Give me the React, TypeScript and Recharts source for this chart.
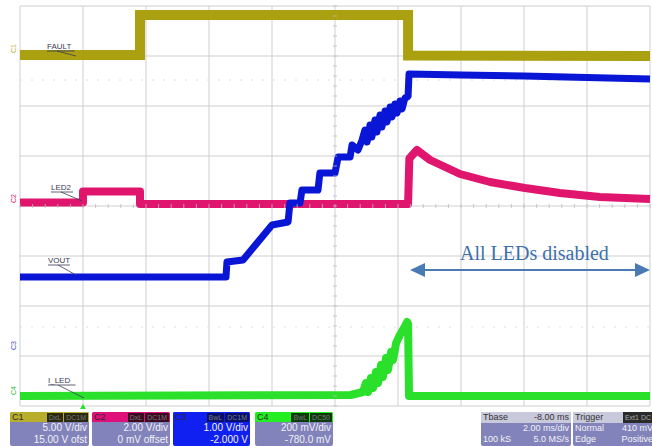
import React from 'react'
import { LineChart, Line, XAxis, YAxis, CartesianGrid, ReferenceLine } from 'recharts'

// x = time in ms (2 ms/div, 10 div), y = screen divisions (center line = 0)
const timeTicks = [0, 2, 4, 6, 8, 10, 12, 14, 16, 18, 20]
const divTicks = [-4, -3, -2, -1, 0, 1, 2, 3, 4]

const faultT = [0, 3.81, 3.81, 12.32, 12.32, 20]
const faultV = [3.02, 3.02, 3.82, 3.82, 3.01, 3.0]

const led2T = [0, 2.0, 2.0, 3.81, 3.81, 12.32, 12.36, 12.6, 13.02, 13.97, 14.92, 16.03, 17.14, 18.41, 20]
const led2V = [0.07, 0.07, 0.29, 0.29, 0.04, 0.04, 0.95, 1.12, 0.92, 0.64, 0.48, 0.36, 0.26, 0.18, 0.14]

const voutT = [0, 6.54, 6.57, 7.08, 8.0, 8.51, 8.57, 8.89, 8.95, 9.46, 9.52, 10.0, 10.1, 10.48, 10.54, 10.73, 10.86,
  10.95, 11.02, 11.11, 11.17, 11.27, 11.33, 11.43, 11.49, 11.59, 11.65, 11.75, 11.81, 11.9, 11.97, 12.06, 12.13, 12.22, 12.29,
  12.32, 12.35, 14, 16, 18, 20]
const voutV = [-1.42, -1.42, -1.12, -1.08, -0.38, -0.32, 0.06, 0.06, 0.32, 0.32, 0.66, 0.66, 0.98, 0.98, 1.22, 1.12, 1.32,
  1.52, 1.28, 1.62, 1.38, 1.72, 1.48, 1.82, 1.58, 1.9, 1.68, 1.98, 1.78, 2.04, 1.86, 2.1, 1.94, 2.16, 2.18,
  2.2, 2.64, 2.62, 2.6, 2.57, 2.54]

const iledT = [0, 10.5, 10.89, 10.98, 11.05, 11.14, 11.21, 11.3, 11.37, 11.46, 11.52, 11.62, 11.68, 11.78, 11.84, 11.94,
  12.06, 12.19, 12.29, 12.32, 12.35, 20]
const iledV = [-3.8, -3.78, -3.72, -3.54, -3.72, -3.44, -3.64, -3.32, -3.54, -3.18, -3.42, -3.04, -3.28, -2.92, -3.08, -2.74,
  -2.58, -2.44, -2.32, -2.36, -3.8, -3.8]

const zip = (t: number[], v: number[]) => t.map((x, i) => ({ t: x, v: v[i] }))

const PL = 20, PT = 6, PW = 630, PH = 400
const cx = PL + PW / 2, cy = PT + PH / 2

const sans = '"Liberation Sans", Arial, sans-serif'

const Box = ({ x, w, head, headColor, badges, badgeColor, lines, allColor }: any) => (
  <div style={{ position: 'absolute', left: x, top: 412, width: w, height: 34, background: allColor || '#8283ba',
    borderRadius: 2, fontFamily: sans, fontSize: 10, color: '#f2f2f8', overflow: 'hidden' }}>
    <div style={{ height: 10, background: headColor, display: 'flex', alignItems: 'center', paddingLeft: 2 }}>
      <span style={{ color: '#2a2a2a', flex: 1, lineHeight: '10px', fontSize: 9 }}>{head}</span>
      {badges.map((b: string) => (
        <span key={b} style={{ background: badgeColor, color: '#777', fontSize: 7, padding: '0 2px', marginRight: 1, lineHeight: '9px' }}>{b}</span>
      ))}
    </div>
    {lines.map((l: string, i: number) => (
      <div key={i} style={{ textAlign: 'right', paddingRight: 2, lineHeight: '12px', height: 12 }}>{l}</div>
    ))}
  </div>
)

export default function App() {
  const label = (txt: string, x: number, y: number, ex: number, ey: number) => (
    <g>
      <text x={x} y={y} fontSize={8} fontFamily={sans} fill="#3a3a55">{txt}</text>
      <line x1={x} y1={y + 2} x2={x + txt.length * 5.5} y2={y + 2} stroke="#3a3a55" strokeWidth={0.8} />
      <line x1={x + 10} y1={y + 2} x2={ex} y2={ey} stroke="#3a3a55" strokeWidth={0.8} />
    </g>
  )
  const vTicks = Array.from({ length: 41 }, (_, i) => PT + i * 10)
  const hTicks = Array.from({ length: 51 }, (_, i) => PL + i * 12.6)
  return (
    <div style={{ position: 'absolute', left: 0, top: 0, width: 652, height: 446, background: '#fff', overflow: 'hidden' }}>
      <LineChart width={652} height={446} margin={{ top: PT, left: PL, right: 2, bottom: 40 }}>
        <CartesianGrid stroke="#cfcfd2" strokeWidth={1} />
        <XAxis type="number" dataKey="t" domain={[0, 20]} ticks={timeTicks} hide allowDuplicatedCategory={false} />
        <YAxis type="number" domain={[-4, 4]} ticks={divTicks} hide />
        <ReferenceLine y={2.52} stroke="#dedede" strokeDasharray="2 9" />
        <ReferenceLine y={-2.42} stroke="#dedede" strokeDasharray="2 9" />
        <Line data={zip(faultT, faultV)} dataKey="v" stroke="#aaa010" strokeWidth={10} dot={false} isAnimationActive={false} />
        <Line data={zip(led2T, led2V)} dataKey="v" stroke="#e0166e" strokeWidth={8} dot={false} isAnimationActive={false} strokeLinejoin="round" />
        <Line data={zip(voutT, voutV)} dataKey="v" stroke="#0a16d6" strokeWidth={7} dot={false} isAnimationActive={false} strokeLinejoin="round" />
        <Line data={zip(iledT, iledV)} dataKey="v" stroke="#2ae02a" strokeWidth={8} dot={false} isAnimationActive={false} strokeLinejoin="round" />
      </LineChart>
      <svg width={652} height={446} style={{ position: 'absolute', left: 0, top: 0 }}>
        {vTicks.map(y => <line key={'v' + y} x1={cx - 2} x2={cx + 2} y1={y} y2={y} stroke="#bdbdc2" strokeWidth={0.8} />)}
        {hTicks.map(x => <line key={'h' + x} x1={x} x2={x} y1={cy - 2} y2={cy + 2} stroke="#bdbdc2" strokeWidth={0.8} />)}
        <text x={12} y={57} fontSize={7} fontFamily={sans} fill="#b8ae30" transform="rotate(-90 12 53)">C1</text>
        <text x={12} y={207} fontSize={7} fontFamily={sans} fill="#e0166e" transform="rotate(-90 12 203)">C2</text>
        <text x={12} y={354} fontSize={7} fontFamily={sans} fill="#3a4ad0" transform="rotate(-90 12 350)">C3</text>
        <text x={12} y={399} fontSize={7} fontFamily={sans} fill="#2ac02a" transform="rotate(-90 12 395)">C4</text>
        {label('FAULT', 47, 49, 76, 56)}
        {label('LED2', 51, 190, 82, 201)}
        {label('VOUT', 48, 263, 76, 275)}
        {label('I_LED', 48, 383, 84, 398)}
        <polygon points="80,404 86,404 83,409" fill="#2ae02a" transform="rotate(180 83 406.5)" />
        <line x1={420} y1={270} x2={640} y2={270} stroke="#4a7ab5" strokeWidth={2} />
        <polygon points="410,270 425,263 425,277" fill="#4a7ab5" />
        <polygon points="650,270 635,263 635,277" fill="#4a7ab5" />
        <text x={460} y={260} fontSize={20} fontFamily='"Liberation Serif", "Times New Roman", serif' fill="#3d70aa">All LEDs disabled</text>
      </svg>
      <Box x={10} w={79} head="C1" headColor="#b9ae2c" badges={['DxL', 'DC1M']} badgeColor="#2b2a10" lines={['5.00 V/div', '15.00 V ofst']} />
      <Box x={92} w={78} head="C2" headColor="#e0107a" badges={['DxL', 'DC1M']} badgeColor="#3a0a20" lines={['2.00 V/div', '0 mV offset']} />
      <Box x={173} w={77} head="C3" headColor="#1020f0" allColor="#1020f0" badges={['BwL', 'DC1M']} badgeColor="#08106a" lines={['1.00 V/div', '-2.000 V']} />
      <Box x={255} w={78} head="C4" headColor="#22ee22" badges={['BwL', 'DC50']} badgeColor="#0c3a0c" lines={['200 mV/div', '-780.0 mV']} />
      <div style={{ position: 'absolute', left: 481, top: 412, width: 90, height: 34, background: '#8283ba', borderRadius: 2,
        fontFamily: sans, fontSize: 9, color: '#f2f2f8' }}>
        <div style={{ display: 'flex', justifyContent: 'space-between', background: '#c9c9dc', color: '#333', padding: '0 2px', lineHeight: '11px' }}>
          <span>Tbase</span><span>-8.00 ms</span></div>
        <div style={{ textAlign: 'right', padding: '0 2px', lineHeight: '11px' }}>2.00 ms/div</div>
        <div style={{ display: 'flex', justifyContent: 'space-between', padding: '0 2px', lineHeight: '11px' }}>
          <span>100 kS</span><span>5.0 MS/s</span></div>
      </div>
      <div style={{ position: 'absolute', left: 573, top: 412, width: 82, height: 34, background: '#8283ba', borderRadius: 2,
        fontFamily: sans, fontSize: 9, color: '#f2f2f8' }}>
        <div style={{ display: 'flex', background: '#c9c9dc', color: '#333', padding: '0 2px', lineHeight: '11px' }}>
          <span style={{ flex: 1 }}>Trigger</span>
          <span style={{ background: '#2a2a2a', color: '#aaa', fontSize: 7, padding: '0 2px' }}>Ext1 DC</span></div>
        <div style={{ display: 'flex', justifyContent: 'space-between', padding: '0 2px', lineHeight: '11px' }}>
          <span>Normal</span><span>410 mV</span></div>
        <div style={{ display: 'flex', justifyContent: 'space-between', padding: '0 2px', lineHeight: '11px' }}>
          <span>Edge</span><span>Positive</span></div>
      </div>
    </div>
  )
}
